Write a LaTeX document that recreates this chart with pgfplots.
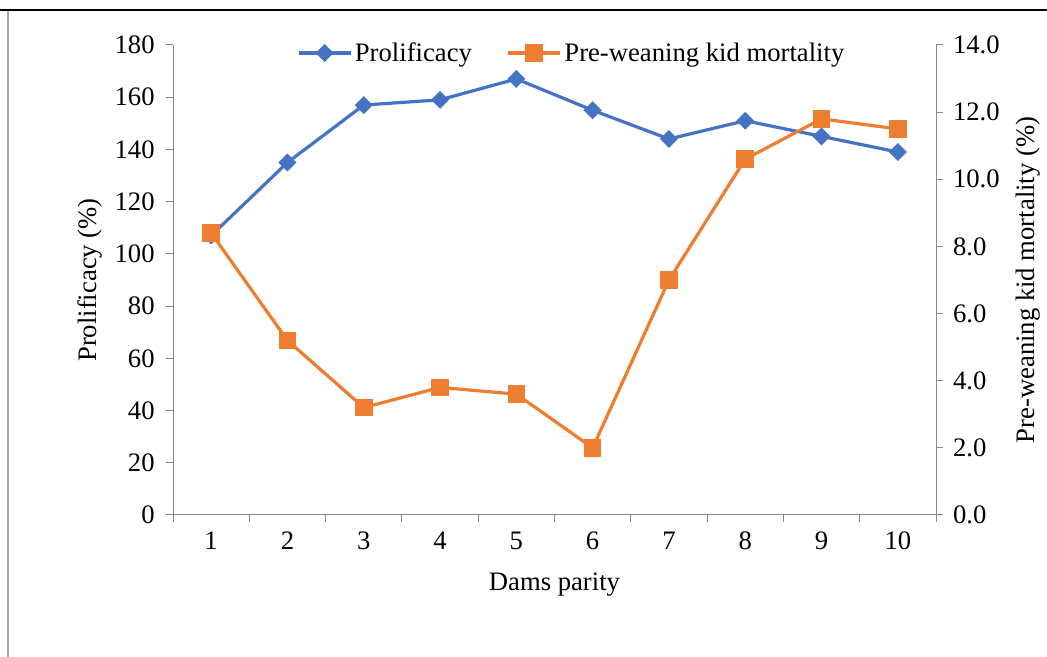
\documentclass[border=0pt]{standalone}
\usepackage{fontspec}
\setmainfont{Liberation Serif}
\usepackage{pgfplots}
\pgfplotsset{compat=1.18}
\definecolor{xlblue}{RGB}{68,114,196}
\definecolor{xlorange}{RGB}{237,125,49}
\definecolor{axgray}{RGB}{134,134,134}
\pgfplotsset{
  blueline/.style={xlblue, line width=2.4pt, mark=square*, mark size=3.55pt, mark options={rotate=45, solid, fill=xlblue}},
  orangeline/.style={xlorange, line width=2.4pt, mark=square*, mark size=5.4pt, mark options={solid, fill=xlorange}},
}
\begin{document}
\begin{tikzpicture}[font=\fontsize{20}{24}\selectfont]
\useasboundingbox (0,0) rectangle (785.25pt,492.75pt);
\draw[black, line width=1.5pt] (0,485.25pt) -- (785.25pt,485.25pt);
\draw[black!35, line width=1.5pt] (6pt,484.5pt) -- (6pt,0);
\begin{axis}[
  at={(129.75pt,106.5pt)}, anchor=south west,
  scale only axis, width=572.25pt, height=352.5pt,
  xmin=0.5, xmax=10.5, ymin=0, ymax=180,
  clip=false,
  axis x line*=bottom, axis y line*=left,
  axis line style={axgray, line width=0.75pt},
  xtick={1,...,10}, minor xtick={0.5,1.5,...,10.5},
  ytick={0,20,...,180},
  tick align=outside, major tick length=5.25pt, minor tick length=5.25pt,
  tick style={axgray, line width=0.75pt},
  major x tick style={draw=none},
  /pgf/number format/assume math mode=true,
  xticklabel style={yshift=-4pt},
  yticklabel style={xshift=-5pt},
  xlabel={Dams parity}, ylabel={Prolificacy (\%)},
  xlabel style={at={(axis description cs:0.5,-0.149)}, anchor=center},
  ylabel style={at={(axis description cs:-0.109,0.5)}, anchor=center},
]
\addplot[blueline] coordinates {(1,107) (2,135) (3,157) (4,159) (5,167) (6,155) (7,144) (8,151) (9,145) (10,139)};
\end{axis}
\begin{axis}[
  at={(129.75pt,106.5pt)}, anchor=south west,
  scale only axis, width=572.25pt, height=352.5pt,
  xmin=0.5, xmax=10.5, ymin=0, ymax=14,
  clip=false,
  axis x line=none, axis y line*=right,
  axis line style={axgray, line width=0.75pt},
  ytick={0,2,...,14},
  tick align=outside, major tick length=5.25pt,
  tick style={axgray, line width=0.75pt},
  /pgf/number format/assume math mode=true,
  yticklabel style={xshift=4pt, /pgf/number format/.cd, fixed, fixed zerofill, precision=1},
  ylabel={Pre-weaning kid mortality (\%)},
  ylabel style={at={(axis description cs:1.1206,0.5)}, anchor=center},
  legend style={at={(0.523,0.983)}, anchor=center, draw=none, fill=none, legend columns=2,
    /tikz/every even column/.append style={column sep=24pt}, font=\fontsize{20}{24}\selectfont},
  legend image code/.code={\draw[mark repeat=2,mark phase=2] plot coordinates {(0pt,0pt)(19.5pt,0pt)(39pt,0pt)};},
]
\addlegendimage{blueline}
\addlegendentry{Prolificacy}
\addplot[orangeline] coordinates {(1,8.4) (2,5.2) (3,3.2) (4,3.8) (5,3.6) (6,2.0) (7,7.0) (8,10.6) (9,11.8) (10,11.5)};
\addlegendentry{Pre-weaning kid mortality}
\end{axis}
\end{tikzpicture}
\end{document}
